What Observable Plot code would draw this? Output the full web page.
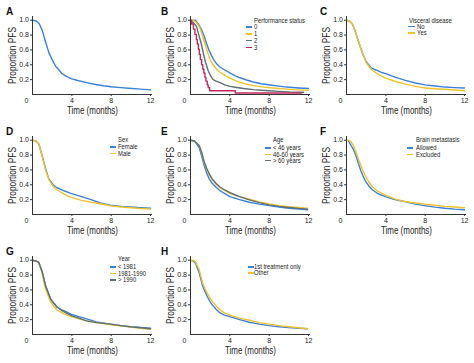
<!DOCTYPE html>
<html>
<head>
<meta charset="utf-8">
<script src="https://cdn.jsdelivr.net/npm/d3@7"></script>
<script src="https://cdn.jsdelivr.net/npm/@observablehq/plot@0.6"></script>
<style>
  html, body { margin: 0; padding: 0; background: #fff; }
  #fig { position: relative; width: 474px; height: 363px; background: #fff; overflow: hidden;
         font-family: 'Liberation Sans', Arial, sans-serif; color: #222; }
  .panel { position: absolute; }
  .letter { position: absolute; font-family: 'Liberation Sans', Arial, sans-serif; font-weight: bold; font-size: 10px; line-height: 10px; color: #111; }
  .lg { position: absolute; font-size: 7px; line-height: 5.5px; white-space: nowrap; color: #222;
        transform: scaleX(0.84); transform-origin: 0 50%; }
  .sw { position: absolute; width: 6px; height: 1.6px; }
</style>
</head>
<body>
<div id="fig"></div>
<script>
// ---------------- data ----------------
const xTicks = [4, 8, 12];
const yTicks = [0.2, 0.4, 0.6, 0.8, 1.0];
const yLabel = "Proportion PFS";
const xLabel = "Time (months)";

// A: all patients
const aT   = [0, 0.4, 0.7, 1.0, 1.3, 1.67, 2.0, 2.35, 2.7, 3.0, 3.5, 4.0, 4.7, 5.5, 6.4, 7.2, 8.0, 9.0, 9.8, 11.0, 12.0];
const aAll = [1.0, 0.99, 0.95, 0.86, 0.72, 0.56, 0.47, 0.38, 0.33, 0.28, 0.24, 0.21, 0.185, 0.16, 0.135, 0.118, 0.104, 0.093, 0.085, 0.072, 0.062];

// B: performance status
const bNames = ["0", "1", "2", "3"];
const b0T = [0, 0.5, 0.8, 1.1, 1.4, 1.65, 1.9, 2.15, 2.4, 2.67, 3.0, 3.35, 4.0, 4.5, 5.05, 5.7, 6.4, 7.2, 8.1, 9.0, 9.8, 11.0, 12.0];
const b0V = [1.0, 1.0, 0.95, 0.88, 0.78, 0.68, 0.59, 0.52, 0.46, 0.41, 0.37, 0.34, 0.29, 0.255, 0.225, 0.195, 0.168, 0.145, 0.128, 0.113, 0.1, 0.088, 0.08];
const b1T = [0, 0.3, 0.6, 0.95, 1.2, 1.47, 1.75, 1.98, 2.3, 2.67, 3.0, 3.35, 4.0, 4.7, 5.5, 6.4, 7.2, 8.1, 9.0, 9.8, 11.0, 12.0];
const b1V = [1.0, 1.0, 0.97, 0.9, 0.8, 0.68, 0.56, 0.47, 0.4, 0.34, 0.3, 0.27, 0.22, 0.18, 0.145, 0.12, 0.103, 0.09, 0.08, 0.072, 0.062, 0.055];
const b2T = [0, 0.2, 0.6, 0.85, 1.1, 1.3, 1.47, 1.8, 2.05, 2.3, 2.6, 3.0, 3.5, 4.0, 4.7, 5.4, 6.4, 7.2, 8.0, 9.0, 10.0, 11.5];
const b2V = [1.0, 0.98, 0.92, 0.8, 0.68, 0.56, 0.46, 0.32, 0.25, 0.2, 0.18, 0.16, 0.13, 0.11, 0.095, 0.08, 0.065, 0.058, 0.05, 0.042, 0.035, 0.03];
const b3T = [0, 0.1, 0.3, 0.45, 0.6, 0.69, 0.8, 0.9, 1.0, 1.13, 1.25, 1.36, 1.47, 1.57, 1.7, 1.8, 1.95, 4.55, 11.3];
const b3V = [1.0, 0.95, 0.88, 0.81, 0.74, 0.68, 0.61, 0.54, 0.47, 0.4, 0.34, 0.29, 0.23, 0.18, 0.13, 0.09, 0.05, 0.02, 0.02];

// C: visceral disease
const cNames = ["No", "Yes"];
const cT   = [0, 0.3, 0.6, 0.97, 1.3, 1.65, 2.0, 2.5, 2.8, 3.0, 3.5, 4.0, 5.0, 6.0, 7.0, 8.0, 9.0, 10.0, 11.0, 12.0];
const cNo  = [1.0, 0.99, 0.95, 0.82, 0.68, 0.55, 0.44, 0.36, 0.34, 0.33, 0.3, 0.28, 0.23, 0.19, 0.155, 0.13, 0.115, 0.1, 0.093, 0.087];
const cYes = [1.0, 0.99, 0.95, 0.82, 0.68, 0.55, 0.43, 0.34, 0.31, 0.29, 0.25, 0.22, 0.175, 0.14, 0.11, 0.088, 0.078, 0.07, 0.06, 0.05];

// D: sex
const dNames = ["Female", "Male"];
const dT      = [0, 0.35, 0.64, 0.99, 1.32, 1.66, 2.0, 2.17, 2.5, 3.0, 3.5, 3.96, 5.0, 5.95, 6.9, 7.9, 9.0, 10.0, 11.0, 12.0];
const dFemale = [1.0, 0.99, 0.95, 0.79, 0.62, 0.48, 0.42, 0.39, 0.36, 0.33, 0.305, 0.28, 0.24, 0.2, 0.155, 0.125, 0.11, 0.1, 0.092, 0.086];
const dMale   = [1.0, 0.99, 0.95, 0.78, 0.6, 0.47, 0.4, 0.37, 0.33, 0.29, 0.255, 0.23, 0.19, 0.165, 0.145, 0.118, 0.1, 0.09, 0.08, 0.073];

// E: age
const eNames = ["< 46 years", "46-60 years", "> 60 years"];
const eT     = [0, 0.4, 0.88, 1.15, 1.39, 1.65, 1.9, 2.2, 2.58, 3.0, 3.5, 4.0, 5.0, 5.98, 7.0, 8.0, 9.0, 10.0, 11.0, 11.9];
const eLt46  = [1.0, 0.99, 0.9, 0.78, 0.66, 0.56, 0.48, 0.42, 0.37, 0.32, 0.28, 0.24, 0.2, 0.165, 0.14, 0.12, 0.1, 0.085, 0.073, 0.064];
const e4660  = [1.0, 0.99, 0.93, 0.82, 0.7, 0.61, 0.54, 0.47, 0.41, 0.36, 0.32, 0.285, 0.24, 0.205, 0.17, 0.143, 0.12, 0.105, 0.095, 0.086];
const eGt60  = [1.0, 0.99, 0.93, 0.83, 0.71, 0.62, 0.55, 0.48, 0.42, 0.37, 0.33, 0.293, 0.24, 0.196, 0.16, 0.13, 0.11, 0.095, 0.082, 0.073];

// F: brain metastasis
const fNames = ["Allowed", "Excluded"];
const fT        = [0, 0.2, 0.45, 0.7, 0.96, 1.2, 1.46, 1.7, 1.98, 2.3, 2.66, 3.2, 3.95, 4.9, 5.9, 7.0, 7.93, 9.0, 10.0, 11.0, 12.0];
const fAllowed  = [1.0, 0.99, 0.93, 0.88, 0.79, 0.69, 0.59, 0.51, 0.44, 0.38, 0.33, 0.28, 0.24, 0.2, 0.175, 0.14, 0.12, 0.1, 0.085, 0.073, 0.064];
const fExcluded = [1.0, 1.0, 0.98, 0.93, 0.84, 0.75, 0.66, 0.58, 0.505, 0.43, 0.37, 0.31, 0.26, 0.21, 0.175, 0.155, 0.14, 0.125, 0.11, 0.1, 0.09];

// G: year
const gNames = ["< 1981", "1981-1990", "> 1990"];
const gT      = [0, 0.35, 0.64, 0.99, 1.32, 1.83, 2.17, 2.5, 3.0, 3.5, 3.96, 4.7, 5.5, 6.5, 7.9, 9.0, 10.0, 11.0, 12.0];
const gLt1981 = [1.0, 0.99, 0.97, 0.84, 0.66, 0.48, 0.42, 0.37, 0.33, 0.3, 0.27, 0.24, 0.21, 0.17, 0.139, 0.12, 0.105, 0.095, 0.086];
const g8190   = [1.0, 0.99, 0.97, 0.83, 0.615, 0.44, 0.38, 0.33, 0.29, 0.26, 0.24, 0.21, 0.183, 0.16, 0.135, 0.115, 0.1, 0.085, 0.069];
const gGt1990 = [1.0, 0.99, 0.97, 0.84, 0.66, 0.48, 0.42, 0.37, 0.32, 0.285, 0.254, 0.22, 0.183, 0.16, 0.139, 0.12, 0.103, 0.09, 0.078];

// H: treatment line
const hNames = ["1st treatment only", "Other"];
const hT     = [0, 0.3, 0.54, 0.87, 1.22, 1.5, 1.73, 2.0, 2.24, 2.6, 2.92, 3.4, 4.0, 5.0, 5.98, 7.0, 8.0, 9.0, 10.0, 11.0, 11.9];
const hFirst = [1.0, 0.99, 0.95, 0.836, 0.66, 0.57, 0.505, 0.44, 0.395, 0.34, 0.298, 0.265, 0.24, 0.2, 0.165, 0.14, 0.12, 0.105, 0.095, 0.085, 0.078];
const hOther = [1.0, 1.0, 0.97, 0.88, 0.7, 0.61, 0.55, 0.49, 0.439, 0.385, 0.342, 0.295, 0.26, 0.22, 0.192, 0.16, 0.139, 0.12, 0.105, 0.09, 0.078];

// ---------------- styling / layout ----------------
const COL = { blue: "#3a82d8", yellow: "#f1c22e", gray: "#5d7074", red: "#c3285b" };
const colLeft = [0, 157.5, 314.3];
const rowTop = [0, 119.6, 239.6];
const letterX = [6, 161, 320];
const titleLen = { [yLabel]: 57, [xLabel]: 51 };

const S = (name, t, v, color, curve = "linear") => ({ name, t, v, color, curve });

const panels = [
  { letter: "A", c: 0, r: 0, series: [S("All", aT, aAll, COL.blue)] },
  { letter: "B", c: 1, r: 0, title: "Performance status",
    series: [S(bNames[0], b0T, b0V, COL.blue), S(bNames[1], b1T, b1V, COL.yellow),
             S(bNames[2], b2T, b2V, COL.gray), S(bNames[3], b3T, b3V, COL.red, "step-after")],
    lg: { titleX: 96.8, swX: 88.2, labX: 96.8, titleY: 20.7, y0: 26.9, step: 6.9 } },
  { letter: "C", c: 2, r: 0, title: "Visceral disease",
    series: [S(cNames[0], cT, cNo, COL.blue), S(cNames[1], cT, cYes, COL.yellow)],
    lg: { titleX: 94.7, swX: 93.7, labX: 103, titleY: 20.5, y0: 26.4, step: 6.6, swW: 7 } },
  { letter: "D", c: 0, r: 1, title: "Sex",
    series: [S(dNames[0], dT, dFemale, COL.blue), S(dNames[1], dT, dMale, COL.yellow)],
    lg: { titleX: 118, swX: 110, labX: 118, titleY: 20.0, y0: 27.6, step: 6.5 } },
  { letter: "E", c: 1, r: 1, title: "Age",
    series: [S(eNames[0], eT, eLt46, COL.blue), S(eNames[1], eT, e4660, COL.yellow), S(eNames[2], eT, eGt60, COL.gray)],
    lg: { titleX: 115.8, swX: 107.5, labX: 115.8, titleY: 20.4, y0: 28.4, step: 6.35 } },
  { letter: "F", c: 2, r: 1, title: "Brain metastasis",
    series: [S(fNames[0], fT, fAllowed, COL.blue), S(fNames[1], fT, fExcluded, COL.yellow)],
    lg: { titleX: 101.4, swX: 93, labX: 101.4, titleY: 20.4, y0: 28.4, step: 6.35 } },
  { letter: "G", c: 0, r: 2, title: "Year",
    series: [S(gNames[0], gT, gLt1981, COL.blue), S(gNames[1], gT, g8190, COL.yellow), S(gNames[2], gT, gGt1990, COL.gray)],
    lg: { titleX: 118, swX: 110, labX: 118, titleY: 19.6, y0: 27.2, step: 6.5 } },
  { letter: "H", c: 1, r: 2, title: null,
    series: [S(hNames[0], hT, hFirst, COL.blue), S(hNames[1], hT, hOther, COL.yellow)],
    lg: { swX: 90.8, labX: 96.8, y0: 27.2, step: 6.1 } }
];

const FONT = "'Liberation Sans', Arial, sans-serif";
const fig = document.getElementById("fig");

function addDiv(cls, left, top, text, extra = {}) {
  const d = document.createElement("div");
  d.className = cls;
  d.style.left = left + "px";
  d.style.top = top + "px";
  if (text != null) d.textContent = text;
  Object.assign(d.style, extra);
  fig.appendChild(d);
  return d;
}

for (const p of panels) {
  const left = colLeft[p.c], top = rowTop[p.r];
  const lineMarks = p.series.map(s =>
    Plot.line(s.t.map((t, i) => ({ t, v: s.v[i] })), {
      x: "t", y: "v", stroke: s.color, strokeWidth: 1.4, curve: s.curve, strokeLinejoin: "round"
    })
  );
  const chart = Plot.plot({
    width: 157, height: 120,
    marginLeft: 32, marginRight: 5, marginTop: 16, marginBottom: 26,
    x: { domain: [0, 12.2] },
    y: { domain: [0, 1.05] },
    style: { fontFamily: FONT, fontSize: "7px", color: "#222", background: "transparent", overflow: "visible" },
    marks: [
      Plot.axisY(yTicks, { tickSize: 2, tickPadding: 1.5, tickFormat: d => d.toFixed(1), label: null, fontSize: 7, stroke: "#333" }),
      Plot.axisX(xTicks, { tickSize: 2, tickPadding: 2, label: null, fontSize: 7, stroke: "#333" }),
      Plot.axisX([0], { tickSize: 0, tickPadding: 4, dx: -6, label: null, fontSize: 7 }),
      ...lineMarks,
      Plot.ruleX([0], { stroke: "#333", strokeWidth: 1 }),
      Plot.ruleY([0], { stroke: "#333", strokeWidth: 1 }),
      Plot.text([yLabel], { frameAnchor: "left", textAnchor: "middle", dx: -20, rotate: -90, fontSize: 10, fill: "#222" }),
      Plot.text([xLabel], { frameAnchor: "bottom", textAnchor: "middle", dy: 19, fontSize: 10, fill: "#222" })
    ]
  });
  // condense the axis titles to the narrow face used in the reference
  chart.querySelectorAll("text").forEach(t => {
    const L = titleLen[t.textContent];
    if (L) { t.setAttribute("textLength", L); t.setAttribute("lengthAdjust", "spacingAndGlyphs"); }
  });
  const holder = addDiv("panel", left, top, null);
  holder.appendChild(chart);

  addDiv("letter", letterX[p.c], top + 7.2, p.letter);

  if (p.lg) {
    const L = p.lg;
    if (p.title) addDiv("lg", left + L.titleX, top + L.titleY - 2.75, p.title);
    p.series.forEach((s, i) => {
      const cy = L.y0 + i * L.step;
      addDiv("sw", left + L.swX, top + cy - 0.8, null, { background: s.color, width: (L.swW || 6) + "px" });
      addDiv("lg", left + L.labX, top + cy - 2.75, s.name);
    });
  }
}
</script>
</body>
</html>
